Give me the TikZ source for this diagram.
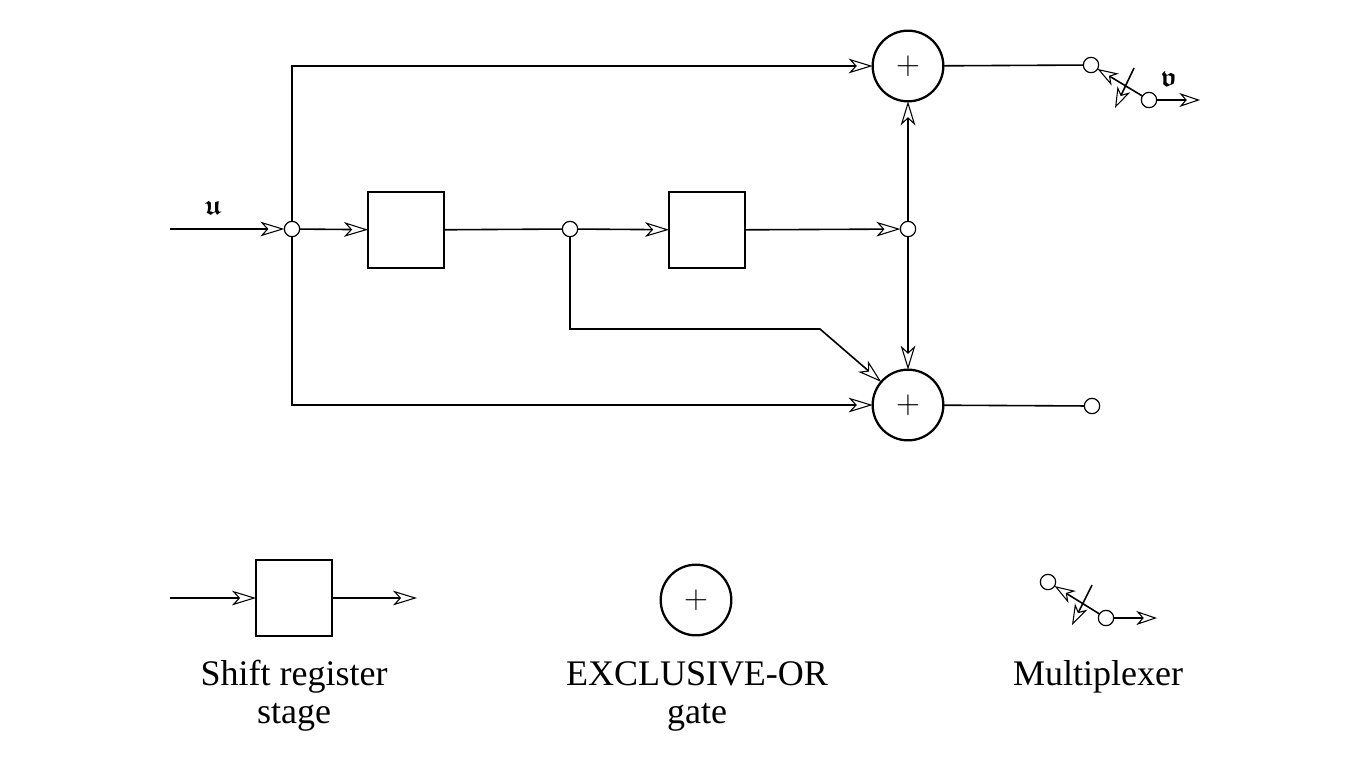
\documentclass[tikz,border=0pt]{standalone}
\usepackage{amsmath,amssymb}
\usepackage{fontspec}
\setmainfont{Liberation Serif}
\usetikzlibrary{arrows.meta}
\tikzset{every picture/.style={line width=1.2pt}}
\tikzset{
  openarrow/.style={-{Stealth[open,length=18pt,width=11pt,inset=5pt,line width=0.8pt]}},
  muxarrow/.style={-{Stealth[open,length=15.5pt,width=10.5pt,inset=4.5pt,line width=0.8pt]}},
  xorgate/.style={draw,circle,line width=1.7pt,minimum size=53pt,inner sep=0pt,outer sep=0pt,font=\Huge},
  junction/.style={draw,circle,line width=0.9pt,minimum size=11.5pt,inner sep=0pt,outer sep=0pt},
  stagebox/.style={draw,minimum size=57pt,inner sep=0pt,outer sep=0pt,line width=0.9pt},
  legendtext/.style={font=\fontsize{27pt}{32pt}\selectfont,inner sep=0pt,anchor=base}
}

\begin{document}
\begin{tikzpicture}[x=0.75pt,y=0.75pt,yscale=-1,xscale=1]
\useasboundingbox (0,0) rectangle (1345,758);

% Gates and stages
\node [xorgate] (xortop) at (908,66) {$+$};
\node [xorgate] (xorbot) at (908,405) {$+$};
\node [stagebox] (stageone) at (406,230) {};
\node [stagebox] (stagetwo) at (707,230) {};

% Junctions
\node [junction] (inj) at (292,229) {};
\node [junction] (midj) at (570,229) {};
\node [junction] (endj) at (908,229) {};
\node [junction] (botout) at (1092,406) {};

% Multiplexer
\node [junction] (muxa) at (1091,65) {};
\node [junction] (muxb) at (1149,100) {};
\coordinate (muxtipa) at (1134,68);
\coordinate (muxtipb) at (1115,108);
\coordinate (vout) at (1200,100);

% Free ends and bends
\coordinate (uin) at (170,229);
\coordinate (topbend) at (292,66);
\coordinate (botbend) at (292,405);
\coordinate (midbenda) at (570,329);
\coordinate (midbendb) at (820,329);

% Connectors
\draw [openarrow] (uin) -- (inj);
\draw [openarrow] (inj) -- (stageone);
\draw (stageone) -- (midj);
\draw [openarrow] (midj) -- (stagetwo);
\draw [openarrow] (stagetwo) -- (endj);
\draw [openarrow] (endj) -- (xortop);
\draw [openarrow] (endj) -- (xorbot);
\draw [openarrow] (inj) -- (topbend) -- (xortop);
\draw [openarrow] (inj) -- (botbend) -- (xorbot);
\draw [openarrow] (midj) -- (midbenda) -- (midbendb) -- (xorbot);
\draw (xortop) -- (muxa);
\draw (xorbot) -- (botout);
\draw [muxarrow] (muxb) -- (muxa);
\draw [muxarrow] (muxtipa) -- (muxtipb);
\draw [muxarrow] (muxb) -- (vout);

% Legend
\coordinate (legin) at (170,598);
\coordinate (legout) at (417,598);
\node [stagebox] (legstage) at (294,598) {};
\draw [openarrow] (legin) -- (legstage);
\draw [openarrow] (legstage) -- (legout);
\node [xorgate] (legxor) at (696,600) {$+$};
\node [junction] (legmuxa) at (1048,582) {};
\node [junction] (legmuxb) at (1106,618) {};
\coordinate (legtipa) at (1092,585);
\coordinate (legtipb) at (1072,625);
\coordinate (legmuxout) at (1157,618);
\draw [muxarrow] (legmuxb) -- (legmuxa);
\draw [muxarrow] (legtipa) -- (legtipb);
\draw [muxarrow] (legmuxb) -- (legmuxout);

% Text Node
\node [font=\huge] (ulabel) at (213,208) {$\boldsymbol{\mathfrak{u}}$};
% Text Node
\node [font=\huge] (vlabel) at (1169,79) {$\boldsymbol{\mathfrak{v}}$};
% Text Node
\node [legendtext] (legtexta) at (294,685) {Shift register};
% Text Node
\node [legendtext] (legtextb) at (294,723) {stage};
% Text Node
\node [legendtext] (legtextc) at (697,685) {EXCLUSIVE-OR};
% Text Node
\node [legendtext] (legtextd) at (697,723) {gate};
% Text Node
\node [legendtext] (legtexte) at (1098,685) {Multiplexer};

\end{tikzpicture}
\end{document}
